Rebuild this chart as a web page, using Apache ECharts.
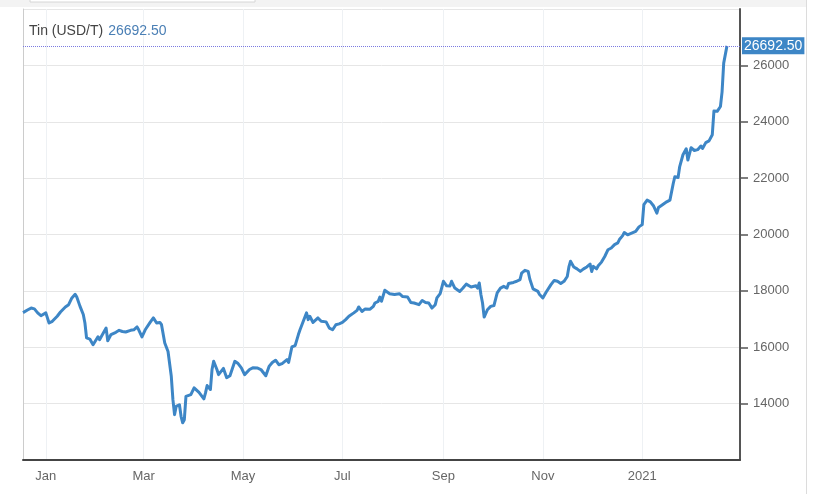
<!DOCTYPE html>
<html>
<head>
<meta charset="utf-8">
<script src="https://cdn.jsdelivr.net/npm/echarts@6/dist/echarts.min.js"></script>
<style>
html,body{margin:0;padding:0;background:#fff;}
#chart{width:826px;height:494px;}
</style>
</head>
<body>
<div id="chart"></div>
<script>
const seriesName = 'Tin (USD/T)';
const dates = [
'2019-12-18','2019-12-19','2019-12-21','2019-12-23','2019-12-25','2019-12-27','2019-12-29','2019-12-30',
'2020-01-01','2020-01-02','2020-01-03','2020-01-05','2020-01-08','2020-01-10','2020-01-11','2020-01-13',
'2020-01-15','2020-01-17','2020-01-19','2020-01-20','2020-01-22','2020-01-24','2020-01-25','2020-01-26',
'2020-01-28','2020-01-30','2020-01-31','2020-02-02','2020-02-03','2020-02-04','2020-02-07','2020-02-08',
'2020-02-10','2020-02-13','2020-02-15','2020-02-17','2020-02-19','2020-02-22','2020-02-24','2020-02-26',
'2020-02-27','2020-02-29','2020-03-01','2020-03-02','2020-03-05','2020-03-07','2020-03-09','2020-03-11',
'2020-03-12','2020-03-13','2020-03-14','2020-03-16','2020-03-18','2020-03-19','2020-03-20','2020-03-21',
'2020-03-23','2020-03-24','2020-03-25','2020-03-26','2020-03-27','2020-03-28','2020-03-30','2020-04-01',
'2020-04-02','2020-04-04','2020-04-05','2020-04-07','2020-04-08','2020-04-09','2020-04-11','2020-04-12',
'2020-04-13','2020-04-15','2020-04-16','2020-04-19','2020-04-21','2020-04-23','2020-04-24','2020-04-26',
'2020-04-28','2020-04-30','2020-05-02','2020-05-05','2020-05-07','2020-05-10','2020-05-12','2020-05-15',
'2020-05-17','2020-05-19','2020-05-21','2020-05-23','2020-05-25','2020-05-26','2020-05-28','2020-05-29',
'2020-05-31','2020-06-02','2020-06-04','2020-06-05','2020-06-07','2020-06-09','2020-06-10','2020-06-11',
'2020-06-13','2020-06-16','2020-06-18','2020-06-21','2020-06-23','2020-06-25','2020-06-27','2020-06-29',
'2020-07-01','2020-07-03','2020-07-05','2020-07-06','2020-07-08','2020-07-10','2020-07-11','2020-07-13',
'2020-07-15','2020-07-18','2020-07-20','2020-07-21','2020-07-23','2020-07-24','2020-07-25','2020-07-27',
'2020-07-28','2020-07-30','2020-08-02','2020-08-03','2020-08-05','2020-08-07','2020-08-10','2020-08-12',
'2020-08-14','2020-08-15','2020-08-17','2020-08-19','2020-08-21','2020-08-23','2020-08-25','2020-08-27',
'2020-08-28','2020-08-30','2020-09-01','2020-09-03','2020-09-05','2020-09-06','2020-09-08','2020-09-09',
'2020-09-11','2020-09-13','2020-09-15','2020-09-16','2020-09-18','2020-09-19','2020-09-21','2020-09-22',
'2020-09-23','2020-09-24','2020-09-25','2020-09-26','2020-09-28','2020-09-30','2020-10-01','2020-10-02',
'2020-10-04','2020-10-06','2020-10-08','2020-10-10','2020-10-11','2020-10-14','2020-10-16','2020-10-18',
'2020-10-19','2020-10-21','2020-10-23','2020-10-24','2020-10-26','2020-10-27','2020-10-29','2020-10-30',
'2020-11-01','2020-11-03','2020-11-06','2020-11-08','2020-11-10','2020-11-12','2020-11-14','2020-11-16',
'2020-11-17','2020-11-18','2020-11-20','2020-11-22','2020-11-24','2020-11-26','2020-11-28','2020-11-30',
'2020-12-01','2020-12-02','2020-12-04','2020-12-05','2020-12-07','2020-12-09','2020-12-11','2020-12-13',
'2020-12-15','2020-12-17','2020-12-18','2020-12-20','2020-12-21','2020-12-23','2020-12-24','2020-12-28',
'2020-12-30','2021-01-01','2021-01-02','2021-01-04','2021-01-06','2021-01-08','2021-01-10','2021-01-11',
'2021-01-13','2021-01-16','2021-01-18','2021-01-20','2021-01-21','2021-01-23','2021-01-24','2021-01-26',
'2021-01-27','2021-01-28','2021-01-29','2021-01-31','2021-02-02','2021-02-04','2021-02-06','2021-02-07',
'2021-02-09','2021-02-11','2021-02-12','2021-02-13','2021-02-14','2021-02-16','2021-02-18','2021-02-19',
'2021-02-20','2021-02-22'
];
const values = [
17230,17250,17330,17390,17360,17220,17120,17070,
17220,17190,16860,16920,17100,17250,17270,17430,
17510,17750,17880,17780,17450,17160,16860,16330,
16290,16090,16070,16370,16270,16370,16680,16230,
16450,16530,16600,16560,16540,16600,16620,16720,
16620,16370,16330,16620,16880,17040,16860,16880,
16800,16860,16150,15850,14970,14140,13610,13900,
13960,13550,13320,13430,14260,14320,14320,14560,
14610,14400,14380,14170,14380,14640,14500,15210,
15500,15210,15030,15250,14920,14990,14970,15500,
15420,15270,15030,15210,15270,15260,15210,14990,
15320,15460,15540,15380,15420,15350,15560,15460,
16010,16060,16450,16620,16920,17220,16980,17100,
16880,17040,16920,16900,16680,16620,16800,16830,
16880,16980,17100,17040,17220,17310,17430,17270,
17360,17350,17450,17570,17630,17780,17630,18020,
18020,17900,17870,17830,17900,17800,17780,17590,
17570,17630,17510,17660,17590,17570,17390,17510,
17750,17900,18340,18180,18170,18340,18100,18070,
17980,18100,18240,18280,18140,18100,18180,18100,
18280,17870,17570,17070,17330,17450,17510,17480,
17930,18100,18160,18100,18260,18300,18340,18400,
18630,18730,18690,18420,18070,18100,17980,17870,
17750,17950,18220,18370,18340,18260,18340,18510,
18850,19050,18850,18780,18690,18780,18850,18950,
18690,18870,18780,18890,19020,19220,19460,19520,
19640,19700,19820,19960,20070,19990,20000,20110,
20270,20350,21060,21220,21160,21010,20760,20960,
21040,21160,21220,21800,22050,22020,22410,22830,
22870,23040,22640,23080,22980,23010,23140,23050,
23260,23320,23360,23540,24380,24370,24540,25060,
26080,26692.5
];
const xTickDates = ['2020-01-01','2020-03-01','2020-05-01','2020-07-01','2020-09-01','2020-11-01','2021-01-01'];
const xTickLabels = ['Jan','Mar','May','Jul','Sep','Nov','2021'];
const xRange = ['2019-12-18','2021-03-02'];
const yTicks = [12000,14000,16000,18000,20000,22000,24000,26000,28000];

function ts(s){ const p = s.split('-').map(Number); return Date.UTC(p[0], p[1]-1, p[2]); }
const seriesData = dates.map((d,i)=>[ts(d), values[i]]);
const tickTs = xTickDates.map(ts);
const lastValue = values[values.length-1];
const lastText = lastValue.toFixed(2);
const FONT = '"Liberation Sans", Arial, sans-serif';

const chart = echarts.init(document.getElementById('chart'), null, {renderer:'canvas'});
chart.setOption({
  animation:false,
  backgroundColor:'#fff',
  textStyle:{fontFamily:FONT},
  title:{
    text:'{a|'+seriesName+'} {b|'+lastText+'}',
    left:24, top:17,
    textStyle:{fontWeight:'normal', rich:{
      a:{color:'#444', fontSize:14, fontWeight:'normal', fontFamily:FONT},
      b:{color:'#4a7fb5', fontSize:14, fontWeight:'normal', fontFamily:FONT}
    }}
  },
  graphic:[
    {type:'rect', shape:{x:0,y:0,width:806,height:7}, style:{fill:'#f3f3f3'}, silent:true, z:-10},
    {type:'rect', shape:{x:30,y:-2,width:225,height:4}, style:{fill:'#fff', stroke:'#d6d6d6', lineWidth:1}, silent:true, z:-9},
    {type:'line', shape:{x1:806.5,y1:0,x2:806.5,y2:494}, style:{stroke:'#dcdcdc', lineWidth:1}, silent:true, z:-9}
  ],
  grid:{left:23, right:86, top:9, bottom:34, containLabel:false},
  xAxis:{
    type:'value',
    min:ts(xRange[0]), max:ts(xRange[1]),
    axisLine:{show:true, onZero:false, lineStyle:{color:'#444', width:2}},
    axisTick:{show:false, customValues:tickTs},
    axisLabel:{
      customValues:tickTs,
      color:'#666', fontSize:13, margin:10,
      formatter:function(v){ const i = tickTs.indexOf(v); return i>=0 ? xTickLabels[i] : ''; }
    },
    splitLine:{show:true, lineStyle:{color:'#eef1f4', width:1}}
  },
  yAxis:[{
    type:'value', position:'right',
    min:yTicks[0], max:yTicks[yTicks.length-1], interval:2000,
    axisLine:{show:true, lineStyle:{color:'#555', width:2}},
    axisTick:{show:true, length:8, lineStyle:{color:'#555', width:1.5}},
    axisLabel:{color:'#666', fontSize:13, margin:13, showMinLabel:false, showMaxLabel:false,
      formatter:function(v){ return String(v); }},
    splitLine:{show:true, lineStyle:{color:'#e6e6e6', width:1}}
  },{
    type:'value', position:'left',
    min:yTicks[0], max:yTicks[yTicks.length-1],
    axisLine:{show:true, lineStyle:{color:'#cccccc', width:1}},
    axisTick:{show:false}, axisLabel:{show:false}, splitLine:{show:false}
  }],
  series:[{
    name:seriesName,
    type:'line',
    yAxisIndex:0,
    data:seriesData,
    showSymbol:false,
    symbol:'none',
    lineStyle:{color:'#3d86c6', width:3, join:'round'},
    markLine:{
      silent:true,
      symbol:'none',
      data:[{yAxis:lastValue}],
      lineStyle:{type:[1,1], color:'#7a7ae0', width:1, opacity:1},
      label:{
        show:true, position:'end', distance:2,
        formatter:lastText,
        backgroundColor:'#3d86c6', color:'#fff', fontSize:14,
        padding:[2,2,1,2]
      }
    }
  }]
});
</script>
</body>
</html>
